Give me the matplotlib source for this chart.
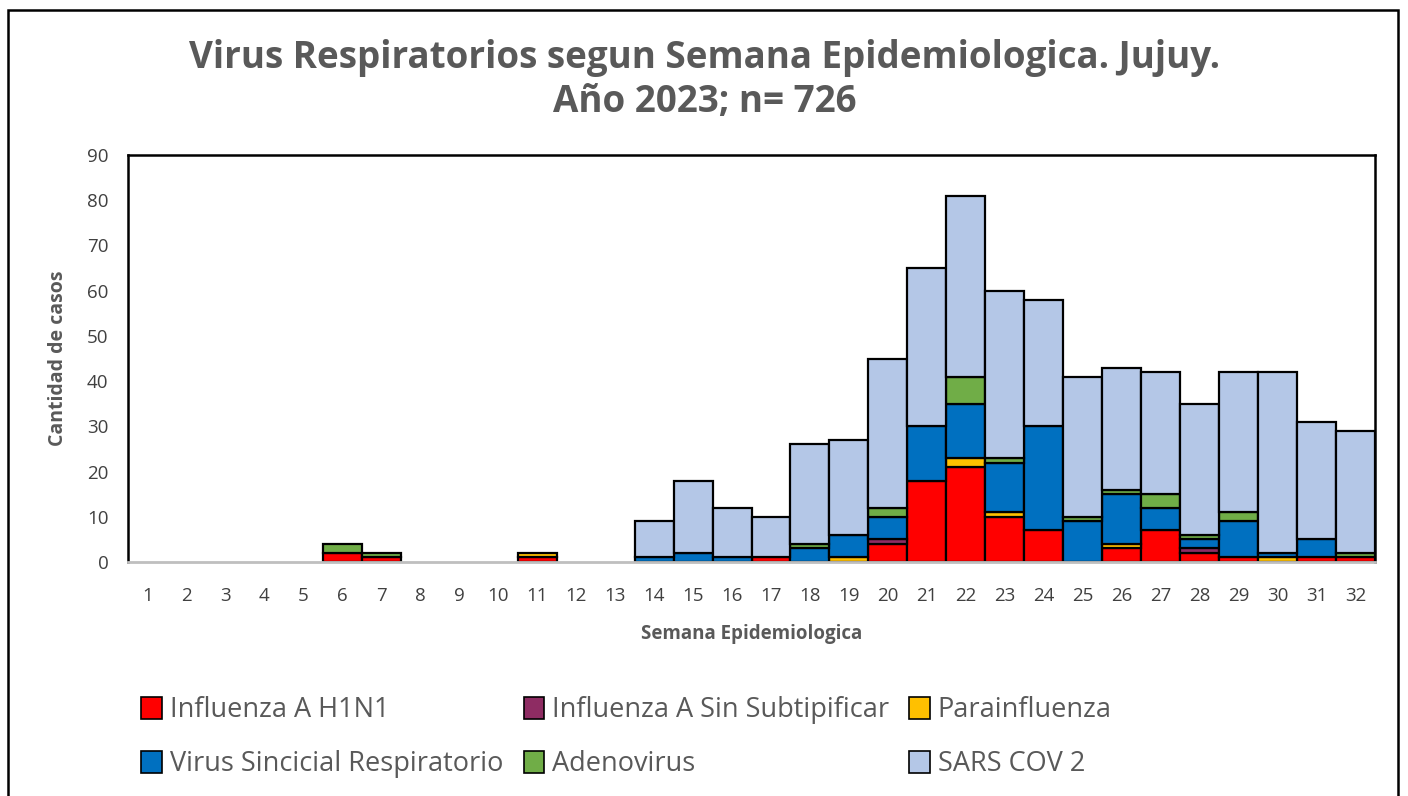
import matplotlib
matplotlib.use("Agg")
import matplotlib.pyplot as plt
from matplotlib.patches import Rectangle, Patch
import numpy as np

weeks = list(range(1, 33))
h1n1 =    [0,0,0,0,0,2,1,0,0,0,1,0,0,0,0,0,1,0,0,4,18,21,10,7,0,3,7,2,1,0,1,1]
infa_ss = [0,0,0,0,0,0,0,0,0,0,0,0,0,0,0,0,0,0,0,1,0,0,0,0,0,0,0,1,0,0,0,0]
parainf = [0,0,0,0,0,0,0,0,0,0,1,0,0,0,0,0,0,0,1,0,0,2,1,0,0,1,0,0,0,1,0,0]
vsr =     [0,0,0,0,0,0,0,0,0,0,0,0,0,1,2,1,0,3,5,5,12,12,11,23,9,11,5,2,8,1,4,0]
adeno =   [0,0,0,0,0,2,1,0,0,0,0,0,0,0,0,0,0,1,0,2,0,6,1,0,1,1,3,1,2,0,0,1]
sars =    [0,0,0,0,0,0,0,0,0,0,0,0,0,8,16,11,9,22,21,33,35,40,37,28,31,27,27,29,31,40,26,27]

series = [
    ("Influenza A H1N1", h1n1, "#FF0000"),
    ("Influenza A Sin Subtipificar", infa_ss, "#8E2C63"),
    ("Parainfluenza", parainf, "#FFC000"),
    ("Virus Sincicial Respiratorio", vsr, "#0070C0"),
    ("Adenovirus", adeno, "#70AD47"),
    ("SARS COV 2", sars, "#B4C7E7"),
]

plt.rcParams['font.family'] = ['Open Sans', 'DejaVu Sans']
W, H = 1408, 796
fig = plt.figure(figsize=(W/100, H/100), dpi=100)
ax = fig.add_axes([128/W, 1-562/H, (1375-128)/W, (562-155)/H])

bottom = np.zeros(len(weeks))
handles = []
for name, vals, col in series:
    v = np.array(vals, dtype=float)
    lw = np.where(v > 0, 1.6, 0.0)
    ax.bar(weeks, v, bottom=bottom, width=1.0, color=col, edgecolor="black",
           linewidth=lw, zorder=3)
    bottom += v
    handles.append(Patch(facecolor=col, edgecolor="black", linewidth=1.2, label=name))

ax.set_xlim(0.5, 32.5)
ax.set_ylim(0, 90)
ax.set_yticks(range(0, 91, 10))
ax.set_xticks(weeks)
ax.tick_params(axis='both', length=0, labelsize=13.5, colors="#404040")
ax.tick_params(axis='x', pad=18)
ax.tick_params(axis='y', pad=14)
for s in ["left", "top", "right"]:
    ax.spines[s].set_color("black")
    ax.spines[s].set_linewidth(1.8)
ax.spines["bottom"].set_color("#BFBFBF")
ax.spines["bottom"].set_linewidth(2)
ax.spines["bottom"].set_zorder(4)

ax.set_xlabel("Semana Epidemiologica", fontsize=13.5, fontweight="bold", color="#595959", labelpad=14)
ax.set_ylabel("Cantidad de casos", fontsize=14, fontweight="bold", color="#595959", labelpad=14)

fig.text(705/W, 1-58/H, "Virus Respiratorios segun Semana Epidemiologica. Jujuy.",
         ha="center", va="center", fontsize=26.5, fontweight="bold", color="#595959")
fig.text(705/W, 1-102/H, "Año 2023; n= 726",
         ha="center", va="center", fontsize=26.5, fontweight="bold", color="#595959")

order = [0, 3, 1, 4, 2, 5]
leg = fig.legend([handles[i] for i in order], [series[i][0] for i in order],
                 ncol=3, loc="upper left", bbox_to_anchor=(117/W, 1-672/H),
                 frameon=False, fontsize=19.5, handlelength=0.75, handleheight=0.9,
                 handletextpad=0.3, columnspacing=0.75, labelspacing=0.95,
                 labelcolor="#595959")

fig.patches.append(Rectangle((8/W, -0.02), (1398-8)/W, 1.02-10/H, transform=fig.transFigure,
                             fill=False, edgecolor="black", linewidth=1.8))

fig.savefig("out.png", dpi=100)
